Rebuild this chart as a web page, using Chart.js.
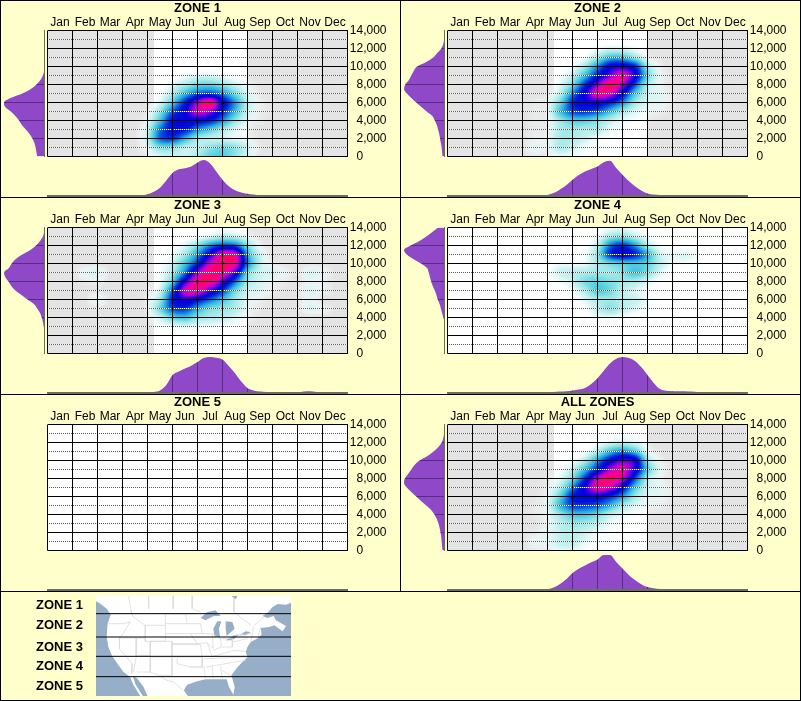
<!DOCTYPE html>
<html>
<head>
<meta charset="utf-8">
<title>Zones</title>
<script src="https://cdn.jsdelivr.net/npm/chart.js@4"></script>
<style>
  html, body { margin: 0; padding: 0; background: #ffffcc; }
  #page { position: relative; width: 801px; height: 701px; overflow: hidden; background: #ffffcc; }
  #page canvas { position: absolute; }
  .rule { position: absolute; background: #000; }
  .zoneKey { position: absolute; width: 83px; text-align: right; font: bold 13px "Liberation Sans", Arial, sans-serif; color: #000; line-height: 14px; }
</style>
</head>
<body>
<div id="page"></div>
<script>
const months = ["Jan", "Feb", "Mar", "Apr", "May", "Jun", "Jul", "Aug", "Sep", "Oct", "Nov", "Dec"];
const elevLabels = ["0\u00a0\u00a0\u00a0\u00a0\u00a0\u00a0\u00a0", "", "2,000", "", "4,000", "", "6,000", "", "8,000", "", "10,000", "", "12,000", "", "14,000"];
const zoneTitles = ["ZONE 1", "ZONE 2", "ZONE 3", "ZONE 4", "ZONE 5", "ALL ZONES"];
const keyLabels = ["ZONE 1", "ZONE 2", "ZONE 3", "ZONE 4", "ZONE 5"];
const keyRows = [605, 625, 647, 666, 686];

// heat grids: one row per 1000 ft from 0 up, one column per half month from Jan 1
const heatMonths = [0, 0.5, 1, 1.5, 2, 2.5, 3, 3.5, 4, 4.5, 5, 5.5, 6, 6.5, 7, 7.5, 8, 8.5, 9, 9.5, 10, 10.5, 11, 11.5, 12];
const heatElevs = [0, 1000, 2000, 3000, 4000, 5000, 6000, 7000, 8000, 9000, 10000, 11000, 12000, 13000, 14000];

const zone1Heat = [
  [0,0,0,0,0,0,0, 0,1,6,8,7,12,22,24,16,6,0, 0,0,0,0,0,0,0],
  [0,0,0,0,0,0,0, 0,5,18,18,10,10,16,20,16,8,1, 0,0,0,0,0,0,0],
  [0,0,0,0,0,0,0, 0,10,40,46,30,14,10,8,5,3,0, 0,0,0,0,0,0,0],
  [0,0,0,0,0,0,0, 0,8,38,55,52,36,25,14,6,2,0, 0,0,0,0,0,0,0],
  [0,0,0,0,0,0,0, 0,4,26,54,60,58,52,36,16,5,1, 0,0,0,0,0,0,0],
  [0,0,0,0,0,0,0, 0,2,16,42,60,85,78,52,28,8,2, 0,0,0,0,0,0,0],
  [0,0,0,0,0,0,0, 0,0,6,25,50,80,97,60,34,10,2, 0,0,0,0,0,0,0],
  [0,0,0,0,0,0,0, 0,0,2,12,28,42,46,36,20,6,1, 0,0,0,0,0,0,0],
  [0,0,0,0,0,0,0, 0,0,0,5,12,20,22,16,8,3,0, 0,0,0,0,0,0,0],
  [0,0,0,0,0,0,0, 0,0,0,0,3,6,6,4,1,0,0, 0,0,0,0,0,0,0],
  [0,0,0,0,0,0,0, 0,0,0,0,0,0,0,0,0,0,0, 0,0,0,0,0,0,0],
  [0,0,0,0,0,0,0, 0,0,0,0,0,0,0,0,0,0,0, 0,0,0,0,0,0,0],
  [0,0,0,0,0,0,0, 0,0,0,0,0,0,0,0,0,0,0, 0,0,0,0,0,0,0],
  [0,0,0,0,0,0,0, 0,0,0,0,0,0,0,0,0,0,0, 0,0,0,0,0,0,0],
  [0,0,0,0,0,0,0, 0,0,0,0,0,0,0,0,0,0,0, 0,0,0,0,0,0,0],
];
const zone2Heat = [
  [0,0,0,0,0,0,0, 1,1,4,3,2,1,1,0,0,0,0, 0,0,0,0,0,0,0],
  [0,0,0,0,0,0,0, 4,3,12,8,3,2,1,0,0,0,0, 0,0,0,0,0,0,0],
  [0,0,0,0,0,0,0, 2,3,12,12,8,3,2,0,0,0,0, 0,0,0,0,0,0,0],
  [0,0,0,0,0,0,0, 1,2,12,14,12,12,4,2,0,0,0, 0,0,0,0,0,0,0],
  [0,0,0,0,0,0,0, 1,2,14,24,24,18,10,4,2,1,0, 0,0,0,0,0,0,0],
  [0,0,0,0,0,0,0, 1,3,26,44,48,42,28,14,6,3,2, 0,0,0,0,0,0,0],
  [0,0,0,0,0,0,0, 1,3,20,48,60,62,52,36,14,6,5, 1,0,0,0,0,0,0],
  [0,0,0,0,0,0,0, 0,1,10,36,62,92,88,58,26,8,4, 1,0,0,0,0,0,0],
  [0,0,0,0,0,0,0, 0,0,5,20,48,76,98,82,45,12,3, 0,0,0,0,0,0,0],
  [0,0,0,0,0,0,0, 0,0,2,10,28,52,74,92,62,22,4, 0,0,0,0,0,0,0],
  [0,0,0,0,0,0,0, 0,0,0,3,14,36,58,62,50,14,2, 0,0,0,0,0,0,0],
  [0,0,0,0,0,0,0, 0,0,0,0,3,14,28,28,16,3,0, 0,0,0,0,0,0,0],
  [0,0,0,0,0,0,0, 0,0,0,0,0,3,6,6,3,0,0, 0,0,0,0,0,0,0],
  [0,0,0,0,0,0,0, 0,0,0,0,0,0,0,0,0,0,0, 0,0,0,0,0,0,0],
  [0,0,0,0,0,0,0, 0,0,0,0,0,0,0,0,0,0,0, 0,0,0,0,0,0,0],
];
const zone3Heat = [
  [0,0,0,0,0,0,0, 0,0,0,0,0,0,0,0,0,0,0, 0,0,0,0,0,0,0],
  [0,0,0,0,0,0,0, 0,0,0,0,0,0,0,0,0,0,0, 0,0,0,0,0,0,0],
  [0,0,0,0,0,0,0, 0,0,0,0,0,0,0,0,0,0,0, 0,0,0,0,0,0,0],
  [0,0,0,0,0,0,0, 0,0,1,4,6,4,3,2,1,0,0, 0,0,0,0,0,0,0],
  [0,0,0,0,0,0,0, 0,1,8,22,26,16,12,10,6,2,0, 0,0,0,0,0,0,0],
  [0,0,0,0,0,0,0, 0,2,20,44,48,32,20,16,12,4,1, 0,0,0,5,3,0,0],
  [0,0,0,0,5,0,0, 0,2,14,50,66,56,42,28,14,5,2, 0,0,0,4,0,0,0],
  [0,0,0,0,0,0,0, 0,1,8,42,85,92,70,48,22,8,5, 2,0,0,5,3,0,0],
  [0,0,0,1,2,0,0, 0,0,3,24,65,95,96,72,42,14,7, 3,1,0,3,2,0,0],
  [0,0,0,4,6,0,0, 0,0,2,14,38,78,98,95,68,22,8, 7,3,0,6,4,0,0],
  [0,0,0,0,0,0,0, 0,0,2,8,26,50,85,98,92,38,10, 2,0,0,0,0,0,0],
  [0,0,0,0,0,0,0, 0,0,0,3,14,34,62,92,90,32,8, 0,0,0,0,0,0,0],
  [0,0,0,0,0,0,0, 0,0,0,1,6,18,36,46,42,18,3, 0,0,0,0,0,0,0],
  [0,0,0,0,0,0,0, 0,0,0,0,0,2,6,12,10,4,0, 0,0,0,0,0,0,0],
  [0,0,0,0,0,0,0, 0,0,0,0,0,0,1,2,1,0,0, 0,0,0,0,0,0,0],
];
const zone4Heat = [
  [0,0,0,0,0,0,0, 0,0,0,0,0,0,0,0,0,0,0, 0,0,0,0,0,0,0],
  [0,0,0,0,0,0,0, 0,0,0,0,0,0,0,0,0,0,0, 0,0,0,0,0,0,0],
  [0,0,0,0,0,0,0, 0,0,0,0,0,0,0,0,0,0,0, 0,0,0,0,0,0,0],
  [0,0,0,0,0,0,0, 0,0,0,0,0,0,0,0,0,0,0, 0,0,0,0,0,0,0],
  [0,0,0,0,0,0,0, 0,0,0,0,0,3,4,2,0,0,0, 0,0,0,0,0,0,0],
  [0,0,0,0,0,0,0, 0,0,0,0,2,10,16,10,6,2,0, 0,0,0,0,0,0,0],
  [0,0,0,0,0,0,0, 0,0,0,0,6,12,14,10,8,3,0, 0,0,0,0,0,0,0],
  [0,0,0,0,0,0,0, 0,0,0,3,12,24,20,10,6,2,0, 0,0,0,0,0,0,0],
  [0,0,0,0,0,0,0, 0,0,3,8,18,22,18,14,12,6,1, 0,0,0,0,0,0,0],
  [0,0,0,0,0,0,0, 0,2,8,10,12,14,14,18,26,18,6, 0,0,0,0,0,0,0],
  [0,0,0,0,0,0,0, 0,0,3,3,4,12,20,24,26,22,10, 3,3,1,0,0,0,0],
  [0,0,0,0,0,0,0, 0,0,0,0,3,16,48,58,50,30,8, 5,6,2,0,0,0,0],
  [0,0,0,0,0,0,0, 0,0,0,0,1,10,38,48,34,12,3, 0,0,0,0,0,0,0],
  [0,0,0,0,0,0,0, 0,0,0,0,0,3,14,18,10,3,0, 0,0,0,0,0,0,0],
  [0,0,0,0,0,0,0, 0,0,0,0,0,0,3,4,2,0,0, 0,0,0,0,0,0,0],
];
const zone5Heat = [];
const allHeat = [
  [0,0,0,0,0,0,0, 1,2,5,5,2,1,1,0,0,0,0, 0,0,0,0,0,0,0],
  [0,0,0,0,0,0,0, 3,4,9,10,5,2,2,0,0,0,0, 0,0,0,0,0,0,0],
  [0,0,0,0,0,0,0, 1,4,9,11,8,4,2,1,0,0,0, 0,0,0,0,0,0,0],
  [0,0,0,0,0,0,0, 0,3,10,15,14,10,4,2,0,0,0, 0,0,0,0,0,0,0],
  [0,0,0,0,0,0,0, 1,4,15,26,26,20,10,5,2,1,0, 0,0,0,0,0,0,0],
  [0,0,0,0,0,0,0, 1,5,28,45,46,42,30,14,6,3,2, 0,0,0,0,0,0,0],
  [0,0,0,0,0,0,0, 0,4,22,50,60,60,50,34,14,5,4, 1,0,0,0,0,0,0],
  [0,0,0,0,0,0,0, 0,2,12,36,64,92,84,58,26,8,4, 1,0,0,0,0,0,0],
  [0,0,0,0,0,0,0, 0,1,5,20,48,84,98,84,45,12,3, 0,0,0,0,0,0,0],
  [0,0,0,0,0,0,0, 0,0,2,10,28,52,80,90,64,24,5, 0,0,0,0,0,0,0],
  [0,0,0,0,0,0,0, 0,0,0,2,12,34,56,72,62,16,3, 0,0,0,0,0,0,0],
  [0,0,0,0,0,0,0, 0,0,0,0,2,12,28,36,26,5,0, 0,0,0,0,0,0,0],
  [0,0,0,0,0,0,0, 0,0,0,0,0,2,6,10,6,1,0, 0,0,0,0,0,0,0],
  [0,0,0,0,0,0,0, 0,0,0,0,0,0,0,0,0,0,0, 0,0,0,0,0,0,0],
  [0,0,0,0,0,0,0, 0,0,0,0,0,0,0,0,0,0,0, 0,0,0,0,0,0,0],
];

// month share, every quarter month from Jan 1
const topMonths = [0,0.25,0.5,0.75,1,1.25,1.5,1.75,2,2.25,2.5,2.75,3,3.25,3.5,3.75,4,4.25,4.5,4.75,5,5.25,5.5,5.75,6,6.25,6.5,6.75,7,7.25,7.5,7.75,8,8.25,8.5,8.75,9,9.25,9.5,9.75,10,10.25,10.5,10.75,11,11.25,11.5,11.75,12];
const zone1Top = [0,0,0,0,0,0,0,0,0,0,0,0,0,0, .01,.02,.05,.12,.23,.43,.64,.74,.77,.82,.93,1,.91,.68,.45,.27,.16,.1,.06,.04,.02,.01,0, 0,0,0,0,0,0,0,0,0,0,0,0];
const zone2Top = [0,0,0,0,0,0,0,0,0,0,0,0,0,0, .01,.02,.03,.08,.18,.3,.45,.58,.68,.75,.82,.94,.98,.78,.59,.42,.27,.15,.07,.04,.03,.02,.01, 0,0,0,0,0,0,0,0,0,0,0,0];
const zone3Top = [0,0,0,0,0,0,.01,.02,.02,.02,.01,0,0,0,0,0, .01,.03,.07,.22,.5,.6,.68,.76,.86,.97,1,.98,.93,.75,.55,.32,.14,.07,.04,.03,.03,.03,.02,.02,.02,.04,.05,.03,.02,.01,0,0,0];
const zone4Top = [0,0,0,0,0,0,0,0,0,0,0,0,0,0,0, .01,.02,.03,.04,.05,.07,.1,.14,.25,.41,.62,.82,.95,1,.97,.89,.72,.5,.28,.11,.06,.05,.05,.05,.04,.03,.02,.01, 0,0,0,0,0,0];
const zone5Top = [];
const allTop = [0,0,0,0,0,0,0,0,0,0,0,0,0,0,0,0, .02,.07,.17,.3,.47,.59,.68,.77,.85,.97,.97,.78,.6,.42,.28,.16,.08,.05,.03,.02,.01, 0,0,0,0,0,0,0,0,0,0,0,0];

// elevation share, every 500 ft from 0 up
const sideElevs = [0,500,1000,1500,2000,2500,3000,3500,4000,4500,5000,5500,6000,6500,7000,7500,8000,8500,9000,9500,10000,10500,11000,11500,12000,12500,13000,13500,14000];
const zone1Side = [.18,.2,.22,.25,.3,.37,.46,.56,.63,.72,.83,.97,1,.84,.55,.34,.2,.1,.04,.01,0,0,0,0,0,0,0,0,0];
const zone2Side = [.05,.06,.07,.09,.11,.13,.16,.19,.24,.3,.44,.57,.7,.82,.93,1,.97,.88,.82,.76,.68,.45,.28,.18,.08,.03,.01,0,0];
const zone3Side = [0,0,0,0,0,0,.02,.04,.07,.11,.18,.26,.42,.57,.72,.82,.89,.97,1,.88,.81,.71,.55,.35,.21,.11,.04,.01,0];
const zone4Side = [0,0,0,0,0,0,0,0,.03,.06,.09,.12,.17,.2,.24,.29,.33,.36,.39,.43,.58,.77,.93,1,.84,.62,.45,.3,.16];
const zone5Side = [];
const allSide = [.05,.06,.07,.08,.1,.12,.15,.19,.25,.33,.45,.58,.7,.82,.93,1,.98,.9,.82,.74,.62,.42,.27,.15,.07,.03,.01,0,0];

const heatGrids = [zone1Heat, zone2Heat, zone3Heat, zone4Heat, zone5Heat, allHeat];
const topSeries = [zone1Top, zone2Top, zone3Top, zone4Top, zone5Top, allTop];
const sideSeries = [zone1Side, zone2Side, zone3Side, zone4Side, zone5Side, allSide];
// white part of the year in each panel, the rest is grey
const seasonStart = [4.26, 4.26, 4.26, 0, 0, 4.26];
const seasonEnd = [8, 8, 8, 12, 12, 8];

// inset map, traced in picture units
const mapLand = [[18,12],[600,12],[600,32],[585,38],[560,36],[545,45],[530,62],[515,72],[530,78],[548,72],[555,85],[585,102],[575,118],[550,100],[535,105],[510,108],[512,128],[498,140],[480,150],[470,165],[465,180],[470,195],[455,210],[438,228],[422,250],[432,285],[428,308],[415,285],[408,262],[385,262],[345,262],[320,268],[290,278],[280,295],[292,312],[172,312],[160,285],[140,258],[128,252],[135,275],[150,300],[158,312],[150,312],[128,275],[120,255],[100,240],[82,215],[65,190],[55,165],[50,135],[52,100],[56,85],[62,68],[50,50],[28,33],[18,28],[18,12]];
const mapLakes = [
  [[330,78],[350,60],[375,55],[390,72],[370,72],[345,85],[330,78]],
  [[372,135],[368,110],[380,88],[392,88],[385,110],[388,135],[372,135]],
  [[405,88],[425,90],[432,110],[415,125],[408,132],[405,110],[405,88]],
  [[405,145],[430,130],[445,128],[425,145],[405,145]],
  [[445,130],[465,118],[480,120],[465,130],[445,130]],
  [[422,12],[440,12],[435,22],[422,12]],
];
const mapBorders = [
  [[115,12],[125,65]], [[175,12],[175,50]], [[250,12],[248,50]], [[305,12],[305,50],[330,60]],
  [[430,20],[430,60],[480,100]], [[490,100],[520,75]], [[60,65],[320,65]],
  [[120,55],[130,75],[165,100],[225,100],[225,65]], [[225,65],[285,65],[290,95]],
  [[225,95],[290,95]], [[225,125],[300,125],[320,155],[245,155]],
  [[56,95],[100,95],[120,90]], [[120,90],[95,130],[88,138]],
  [[165,100],[165,148],[225,148],[225,100]],
  [[88,138],[138,138],[138,195],[130,240]], [[88,138],[88,170],[125,215],[125,245]],
  [[138,138],[165,138]], [[180,148],[180,240],[140,240]], [[138,190],[180,190]],
  [[180,148],[245,148],[245,250],[205,250],[180,240]], [[180,195],[335,195]],
  [[335,195],[335,225],[300,225],[260,215],[260,197]], [[340,225],[345,258]], [[300,225],[340,225]],
  [[205,250],[230,265],[250,270],[278,295]], [[245,158],[330,158],[335,195]],
  [[285,95],[330,95],[335,125],[300,125]], [[320,155],[350,152],[365,195]],
  [[335,125],[365,125],[368,170],[352,155]], [[365,125],[390,140],[392,165],[368,175]],
  [[392,140],[425,140],[425,165],[395,165]], [[340,200],[470,195]], [[360,195],[430,175],[465,178]],
  [[345,225],[465,205]], [[365,222],[368,262]], [[390,222],[395,262]], [[420,250],[395,235]],
  [[425,150],[470,140]], [[430,130],[480,125]], [[480,150],[488,105]], [[500,140],[510,105]],
];
const mapZoneLines = [65, 135, 193, 254];

const fontFamily = '"Liberation Sans", Arial, sans-serif';
const purple = "#8e48c8";
const baseColor = "#6e6e5c";

// value to colour, transparent at the bottom
const heatStops = [
  [0, 255, 255, 255, 0],
  [3, 235, 250, 250, 0.7],
  [7, 208, 243, 243, 1],
  [14, 160, 232, 232, 1],
  [22, 95, 213, 225, 1],
  [32, 40, 170, 225, 1],
  [42, 10, 90, 225, 1],
  [52, 0, 20, 215, 1],
  [62, 0, 0, 225, 1],
  [70, 70, 0, 225, 1],
  [78, 150, 0, 220, 1],
  [86, 220, 0, 190, 1],
  [94, 250, 0, 140, 1],
  [100, 255, 0, 100, 1],
];

function heatColor(v) {
  if (v <= 0) return [255, 255, 255, 0];
  if (v >= 100) v = 100;
  for (let i = 1; i < heatStops.length; i++) {
    const a = heatStops[i - 1];
    const b = heatStops[i];
    if (v <= b[0]) {
      const t = (v - a[0]) / (b[0] - a[0]);
      return [a[1] + (b[1] - a[1]) * t, a[2] + (b[2] - a[2]) * t, a[3] + (b[3] - a[3]) * t, (a[4] + (b[4] - a[4]) * t) * 255];
    }
  }
}

function catmull(p0, p1, p2, p3, t) {
  return p1 + 0.5 * t * (p2 - p0 + t * (2 * p0 - 5 * p1 + 4 * p2 - p3 + t * (3 * (p1 - p2) + p3 - p0)));
}

// paints the grey year and the density cells under the grid lines
const heatLayer = {
  id: "heatLayer",
  beforeDatasetsDraw(chart) {
    const ctx = chart.ctx;
    const area = chart.chartArea;
    const xv = chart.scales.xv;
    const y = chart.scales.y;
    const ds = chart.data.datasets[0];

    ctx.save();
    ctx.fillStyle = "#e4e4e4";
    ctx.fillRect(area.left, area.top, area.right - area.left, area.bottom - area.top);
    ctx.fillStyle = "#ffffff";
    const x0 = xv.getPixelForValue(ds.seasonStart);
    const x1 = xv.getPixelForValue(ds.seasonEnd);
    ctx.fillRect(x0, area.top, x1 - x0, area.bottom - area.top);
    ctx.restore();

    if (!ds.data.length) return;
    const cols = heatMonths.length;
    const rows = heatElevs.length;
    const cell = (c, r) => {
      c = Math.max(0, Math.min(cols - 1, c));
      r = Math.max(0, Math.min(rows - 1, r));
      return ds.data[r * cols + c].v;
    };
    const left = Math.floor(area.left);
    const top = Math.floor(area.top);
    const w = Math.ceil(area.right) - left;
    const h = Math.ceil(area.bottom) - top;
    const off = document.createElement("canvas");
    off.width = w;
    off.height = h;
    const offCtx = off.getContext("2d");
    const img = offCtx.createImageData(w, h);
    for (let py = 0; py < h; py++) {
      const rf = y.getValueForPixel(top + py + 0.5) / 1000;
      const r = Math.floor(rf);
      for (let px = 0; px < w; px++) {
        const cf = xv.getValueForPixel(left + px + 0.5) * 2;
        const c = Math.floor(cf);
        const tc = cf - c;
        const rowVals = [];
        for (let k = -1; k <= 2; k++) {
          rowVals.push(catmull(cell(c - 1, r + k), cell(c, r + k), cell(c + 1, r + k), cell(c + 2, r + k), tc));
        }
        const col = heatColor(catmull(rowVals[0], rowVals[1], rowVals[2], rowVals[3], rf - r));
        const i = (py * w + px) * 4;
        img.data[i] = col[0];
        img.data[i + 1] = col[1];
        img.data[i + 2] = col[2];
        img.data[i + 3] = col[3];
      }
    }
    offCtx.putImageData(img, 0, 0);
    ctx.save();
    ctx.beginPath();
    ctx.rect(area.left, area.top, area.right - area.left, area.bottom - area.top);
    ctx.clip();
    ctx.drawImage(off, left, top);
    ctx.restore();
  },
};

// dark grid lines that only show inside the purple fill
const fillGrid = {
  id: "fillGrid",
  afterDatasetsDraw(chart) {
    const opts = chart.options.plugins.fillGrid;
    if (!opts || !opts.axis) return;
    const ctx = chart.ctx;
    const area = chart.chartArea;
    const scale = chart.scales[opts.axis];
    ctx.save();
    ctx.globalCompositeOperation = "source-atop";
    ctx.strokeStyle = "#54307c";
    ctx.lineWidth = 1;
    ctx.beginPath();
    for (let v = opts.step; v < opts.end; v += opts.step) {
      const p = Math.floor(scale.getPixelForValue(v)) + 0.5;
      if (opts.axis === "x") {
        ctx.moveTo(p, area.top);
        ctx.lineTo(p, area.bottom);
      } else {
        ctx.moveTo(area.left, p);
        ctx.lineTo(area.right, p);
      }
    }
    ctx.stroke();
    ctx.restore();
  },
};

const page = document.getElementById("page");

function addCanvas(x, y, w, h) {
  const c = document.createElement("canvas");
  c.width = w;
  c.height = h;
  c.style.left = x + "px";
  c.style.top = y + "px";
  c.style.width = w + "px";
  c.style.height = h + "px";
  page.appendChild(c);
  return c;
}

function addRule(x, y, w, h) {
  const d = document.createElement("div");
  d.className = "rule";
  d.style.left = x + "px";
  d.style.top = y + "px";
  d.style.width = w + "px";
  d.style.height = h + "px";
  page.appendChild(d);
}

const tickFont = { family: fontFamily, size: 12 };

function makeMain(i, px, py) {
  const points = [];
  heatGrids[i].forEach((row, r) => {
    row.forEach((v, c) => points.push({ x: heatMonths[c], y: heatElevs[r], v: v }));
  });
  new Chart(addCanvas(px, py, 400, 197), {
    type: "scatter",
    data: {
      labels: months,
      datasets: [{
        data: points,
        xAxisID: "xv",
        yAxisID: "y",
        pointRadius: 0,
        pointHoverRadius: 0,
        seasonStart: seasonStart[i],
        seasonEnd: seasonEnd[i],
      }],
    },
    plugins: [heatLayer],
    options: {
      responsive: false,
      animation: false,
      events: [],
      layout: { padding: { left: 47.5, right: 13.5, top: 0, bottom: 40.5 } },
      plugins: { legend: { display: false }, tooltip: { enabled: false } },
      scales: {
        x: {
          type: "category",
          position: "top",
          offset: true,
          afterFit: (s) => { s.height = 30.5; },
          title: {
            display: true,
            text: zoneTitles[i],
            color: "#000",
            font: { family: fontFamily, size: 13, weight: "bold" },
            padding: { top: 1, bottom: 0 },
          },
          grid: { offset: true, color: "#000", lineWidth: 1, drawTicks: false, z: 3 },
          border: { display: false },
          ticks: { color: "#000", font: tickFont, padding: 1, maxRotation: 0, autoSkip: false },
        },
        xv: { type: "linear", display: false, min: 0, max: 12 },
        yd: {
          type: "linear",
          position: "right",
          min: 0,
          max: 14000,
          afterFit: (s) => { s.width = 0; },
          ticks: { display: false, stepSize: 1000, autoSkip: false },
          grid: {
            z: 1,
            drawTicks: false,
            color: (c) => (c.tick.value % 2000 === 0 ? "rgba(0,0,0,0)" : "#fff"),
          },
          border: { display: false, dash: [1, 1], dashOffset: 1.5 },
        },
        y: {
          type: "linear",
          position: "right",
          min: 0,
          max: 14000,
          afterFit: (s) => { s.width = 39; },
          ticks: {
            stepSize: 1000,
            autoSkip: false,
            color: "#000",
            font: tickFont,
            padding: 2,
            crossAlign: "far",
            callback: (v) => elevLabels[v / 1000],
          },
          grid: {
            z: 2,
            drawTicks: false,
            color: (c) => (c.tick.value % 2000 === 0 ? "#000" : "#5a5a5a"),
          },
          border: {
            display: false,
            dash: (c) => (c.tick && c.tick.value % 2000 !== 0 ? [1, 1] : []),
            dashOffset: 0.5,
          },
        },
      },
    },
  });
}

function makeTop(i, px, py) {
  new Chart(addCanvas(px + 47, py + 157, 301, 40), {
    type: "line",
    data: {
      datasets: [{
        data: topSeries[i].map((v, k) => ({ x: topMonths[k], y: v })),
        backgroundColor: purple,
        borderWidth: 0,
        pointRadius: 0,
        fill: "origin",
        cubicInterpolationMode: "monotone",
      }],
    },
    plugins: [fillGrid],
    options: {
      responsive: false,
      animation: false,
      events: [],
      layout: { padding: { left: 0.5, right: 0.5, top: 3, bottom: 1 } },
      plugins: { legend: { display: false }, tooltip: { enabled: false }, fillGrid: { axis: "x", step: 1, end: 12 } },
      scales: {
        x: {
          type: "linear",
          min: 0,
          max: 12,
          afterFit: (s) => { s.height = 0; },
          ticks: { display: false },
          grid: { display: false, drawTicks: false },
          border: { color: baseColor, width: 2, z: 1 },
        },
        y: { type: "linear", display: false, min: 0, max: 1 },
      },
    },
  });
}

function makeSide(i, px, py) {
  const hasData = sideSeries[i].length > 0;
  new Chart(addCanvas(px, py + 28, 47, 132), {
    type: "line",
    data: {
      datasets: [{
        data: sideSeries[i].map((v, k) => ({ x: v, y: sideElevs[k] })),
        backgroundColor: purple,
        borderWidth: 0,
        pointRadius: 0,
        fill: "origin",
        cubicInterpolationMode: "monotone",
      }],
    },
    plugins: [fillGrid],
    options: {
      indexAxis: "y",
      responsive: false,
      animation: false,
      events: [],
      layout: { padding: { left: 4, right: 2.5, top: 2.5, bottom: 3.5 } },
      plugins: { legend: { display: false }, tooltip: { enabled: false }, fillGrid: { axis: "y", step: 2000, end: 14000 } },
      scales: {
        x: { type: "linear", display: false, min: 0, max: 1, reverse: true },
        y: {
          type: "linear",
          position: "right",
          min: 0,
          max: 14000,
          afterFit: (s) => { s.width = 0; },
          ticks: { display: false },
          grid: { display: false, drawTicks: false },
          border: { display: hasData, color: baseColor, width: 1, z: 1 },
        },
      },
    },
  });
}

function makeMap() {
  const toPoints = (line) => line.map((p) => ({ x: p[0], y: p[1] }));
  const datasets = [];
  mapZoneLines.forEach((y) => {
    datasets.push({ data: [{ x: 18, y: y }, { x: 600, y: y }], borderColor: "#000", borderWidth: 1, order: 1 });
  });
  mapBorders.forEach((b) => {
    datasets.push({ data: toPoints(b), borderColor: "#dadada", borderWidth: 0.8, order: 3 });
  });
  mapLakes.forEach((l) => {
    datasets.push({ data: toPoints(l), borderColor: "#96aec8", backgroundColor: "#96aec8", borderWidth: 0, fill: "shape", order: 5 });
  });
  datasets.push({ data: toPoints(mapLand), borderColor: "#fff", backgroundColor: "#fff", borderWidth: 0, fill: "shape", order: 10 });
  const canvas = addCanvas(96, 596, 195, 100);
  canvas.style.background = "#96aec8";
  new Chart(canvas, {
    type: "scatter",
    data: { datasets: datasets.map((d) => Object.assign({ showLine: true, pointRadius: 0 }, d)) },
    options: {
      responsive: false,
      animation: false,
      events: [],
      plugins: { legend: { display: false }, tooltip: { enabled: false } },
      scales: {
        x: { type: "linear", display: false, min: 18, max: 600 },
        y: { type: "linear", display: false, min: 12, max: 312, reverse: true },
      },
    },
  });
}

zoneTitles.forEach((t, i) => {
  const px = (i % 2) * 400;
  const py = Math.floor(i / 2) * 197;
  makeMain(i, px, py);
  makeTop(i, px, py);
  makeSide(i, px, py);
});
makeMap();

keyLabels.forEach((t, i) => {
  const d = document.createElement("div");
  d.className = "zoneKey";
  d.textContent = t;
  d.style.left = "0px";
  d.style.top = keyRows[i] - 7 + "px";
  page.appendChild(d);
});

// panel frame
addRule(0, 0, 801, 1);
addRule(0, 700, 801, 1);
addRule(0, 0, 1, 701);
addRule(800, 0, 1, 701);
addRule(400, 0, 1, 591);
addRule(0, 197, 801, 1);
addRule(0, 394, 801, 1);
addRule(0, 591, 801, 1);
</script>
</body>
</html>
